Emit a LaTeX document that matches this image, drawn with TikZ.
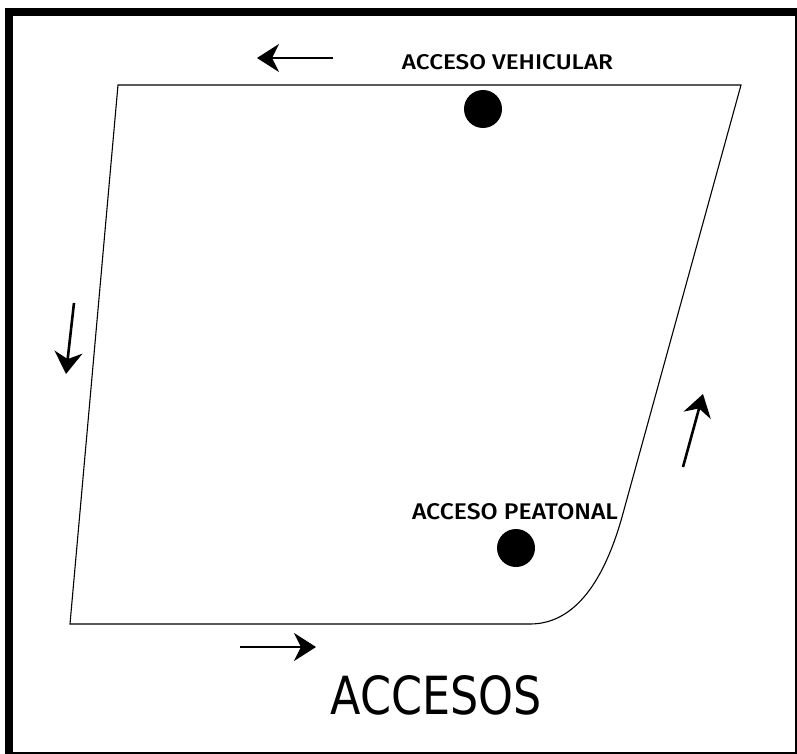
\documentclass[tikz,border=0pt]{standalone}
\usepackage{fontspec}
\setmainfont{DejaVu Sans}
\newfontfamily\labfont{Fira Sans}[UprightFont=* Medium]
\usetikzlibrary{arrows.meta}
\begin{document}
\begin{tikzpicture}[x=1pt,y=-1pt,
  flow/.style={line width=2.6pt,-{Stealth[length=22pt,width=28pt,inset=7pt]}},
  outline/.style={line width=1.1pt,line join=miter},
  dot/.style={circle,fill=black,inner sep=0pt,minimum size=38pt},
  lbl/.style={inner sep=0pt}]
\useasboundingbox (0,0) rectangle (797,754);
\clip (0,0) rectangle (797,754);
\fill[white] (0,0) rectangle (797,754);
% frame
\draw[line width=8pt] (9,12) rectangle (799,756);
% plot outline
\draw[outline] (118,85) -- (741,85) -- (622,517)
  .. controls (602,588) and (571,624) .. (530,624) -- (70,624) -- cycle;
% access points
\node[dot] (veh) at (483,109) {};
\node[dot] (pea) at (516,548) {};
% labels
\node[lbl] (tveh) at (507.5,62.5) {\resizebox{211pt}{15pt}{\labfont ACCESO VEHICULAR}};
\node[lbl] (tpea) at (515,511.5) {\resizebox{206pt}{16pt}{\labfont ACCESO PEATONAL}};
\node[lbl] (title) at (436,695.5) {\resizebox{211pt}{39pt}{ACCESOS}};
% flow arrows
\coordinate (a1s) at (333,58); \coordinate (a1e) at (257,58);
\coordinate (a2s) at (74,303); \coordinate (a2e) at (66,374);
\coordinate (a3s) at (240,647); \coordinate (a3e) at (316,647);
\coordinate (a4s) at (683,467); \coordinate (a4e) at (703,394);
\draw[flow] (a1s) -- (a1e);
\draw[flow] (a2s) -- (a2e);
\draw[flow] (a3s) -- (a3e);
\draw[flow] (a4s) -- (a4e);
\end{tikzpicture}
\end{document}
